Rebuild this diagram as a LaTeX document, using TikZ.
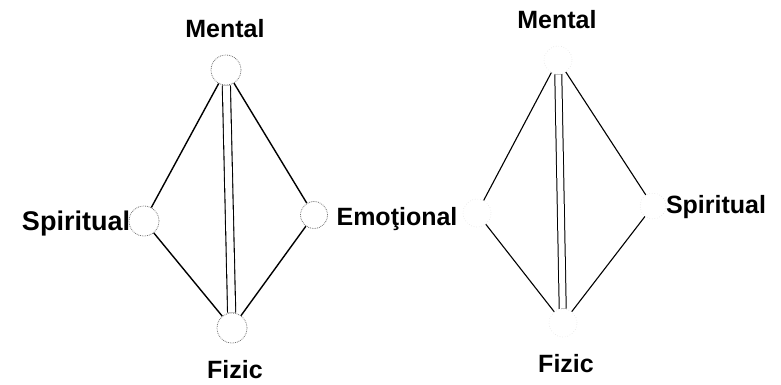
\documentclass[tikz,border=0pt]{standalone}
\usepackage{fontspec}
\setmainfont{Liberation Sans}
\begin{document}
\begin{tikzpicture}[x=1pt,y=-1pt,
  lbl/.style={font=\fontsize{25}{28}\selectfont\bfseries, inner sep=0pt, anchor=base},
  biglbl/.style={lbl, font=\fontsize{27}{30}\selectfont\bfseries},
  dotA/.style={circle, minimum size=30pt, inner sep=0pt, draw=black!55, densely dotted, line width=0.8pt},
  dotB/.style={circle, minimum size=28pt, inner sep=0pt, draw=black!12, dotted, line width=0.6pt},
  edgeA/.style={line width=1.4pt},
  edgeB/.style={line width=1.1pt},
  pillarA/.style={double, double distance=7pt, line width=1.1pt},
  pillarB/.style={double, double distance=6pt, line width=1pt}]
\useasboundingbox (0,0) rectangle (781,384);
% left diagram
\node[dotA] (lm) at (226,70) {};
\node[dotA] (ls) at (144,221) {};
\node[dotA, minimum size=27pt] (le) at (314,215) {};
\node[dotA] (lf) at (232,328) {};
\draw[edgeA] (lm) -- (ls);
\draw[edgeA] (ls) -- (lf);
\draw[edgeA] (lm) -- (le);
\draw[edgeA] (le) -- (lf);
\draw[pillarA] (lm) -- (lf);
\node[lbl] (tlm) at (225,37) {Mental};
\node[biglbl] (tls) at (76,230) {Spiritual};
\node[lbl] (tle) at (397,225) {Emoţional};
\node[lbl] (tlf) at (235,378) {Fizic};
% right diagram
\node[dotB] (rm) at (558,60) {};
\node[dotB] (re) at (477,213) {};
\node[dotB, minimum size=26pt] (rs) at (653,206) {};
\node[dotB] (rf) at (563,323) {};
\draw[edgeB] (rm) -- (re);
\draw[edgeB] (re) -- (rf);
\draw[edgeB] (rm) -- (rs);
\draw[edgeB] (rs) -- (rf);
\draw[pillarB] (rm) -- (rf);
\node[lbl] (trm) at (557,28) {Mental};
\node[lbl] (trs) at (716,213) {Spiritual};
\node[lbl] (trf) at (566,372) {Fizic};
\end{tikzpicture}
\end{document}
